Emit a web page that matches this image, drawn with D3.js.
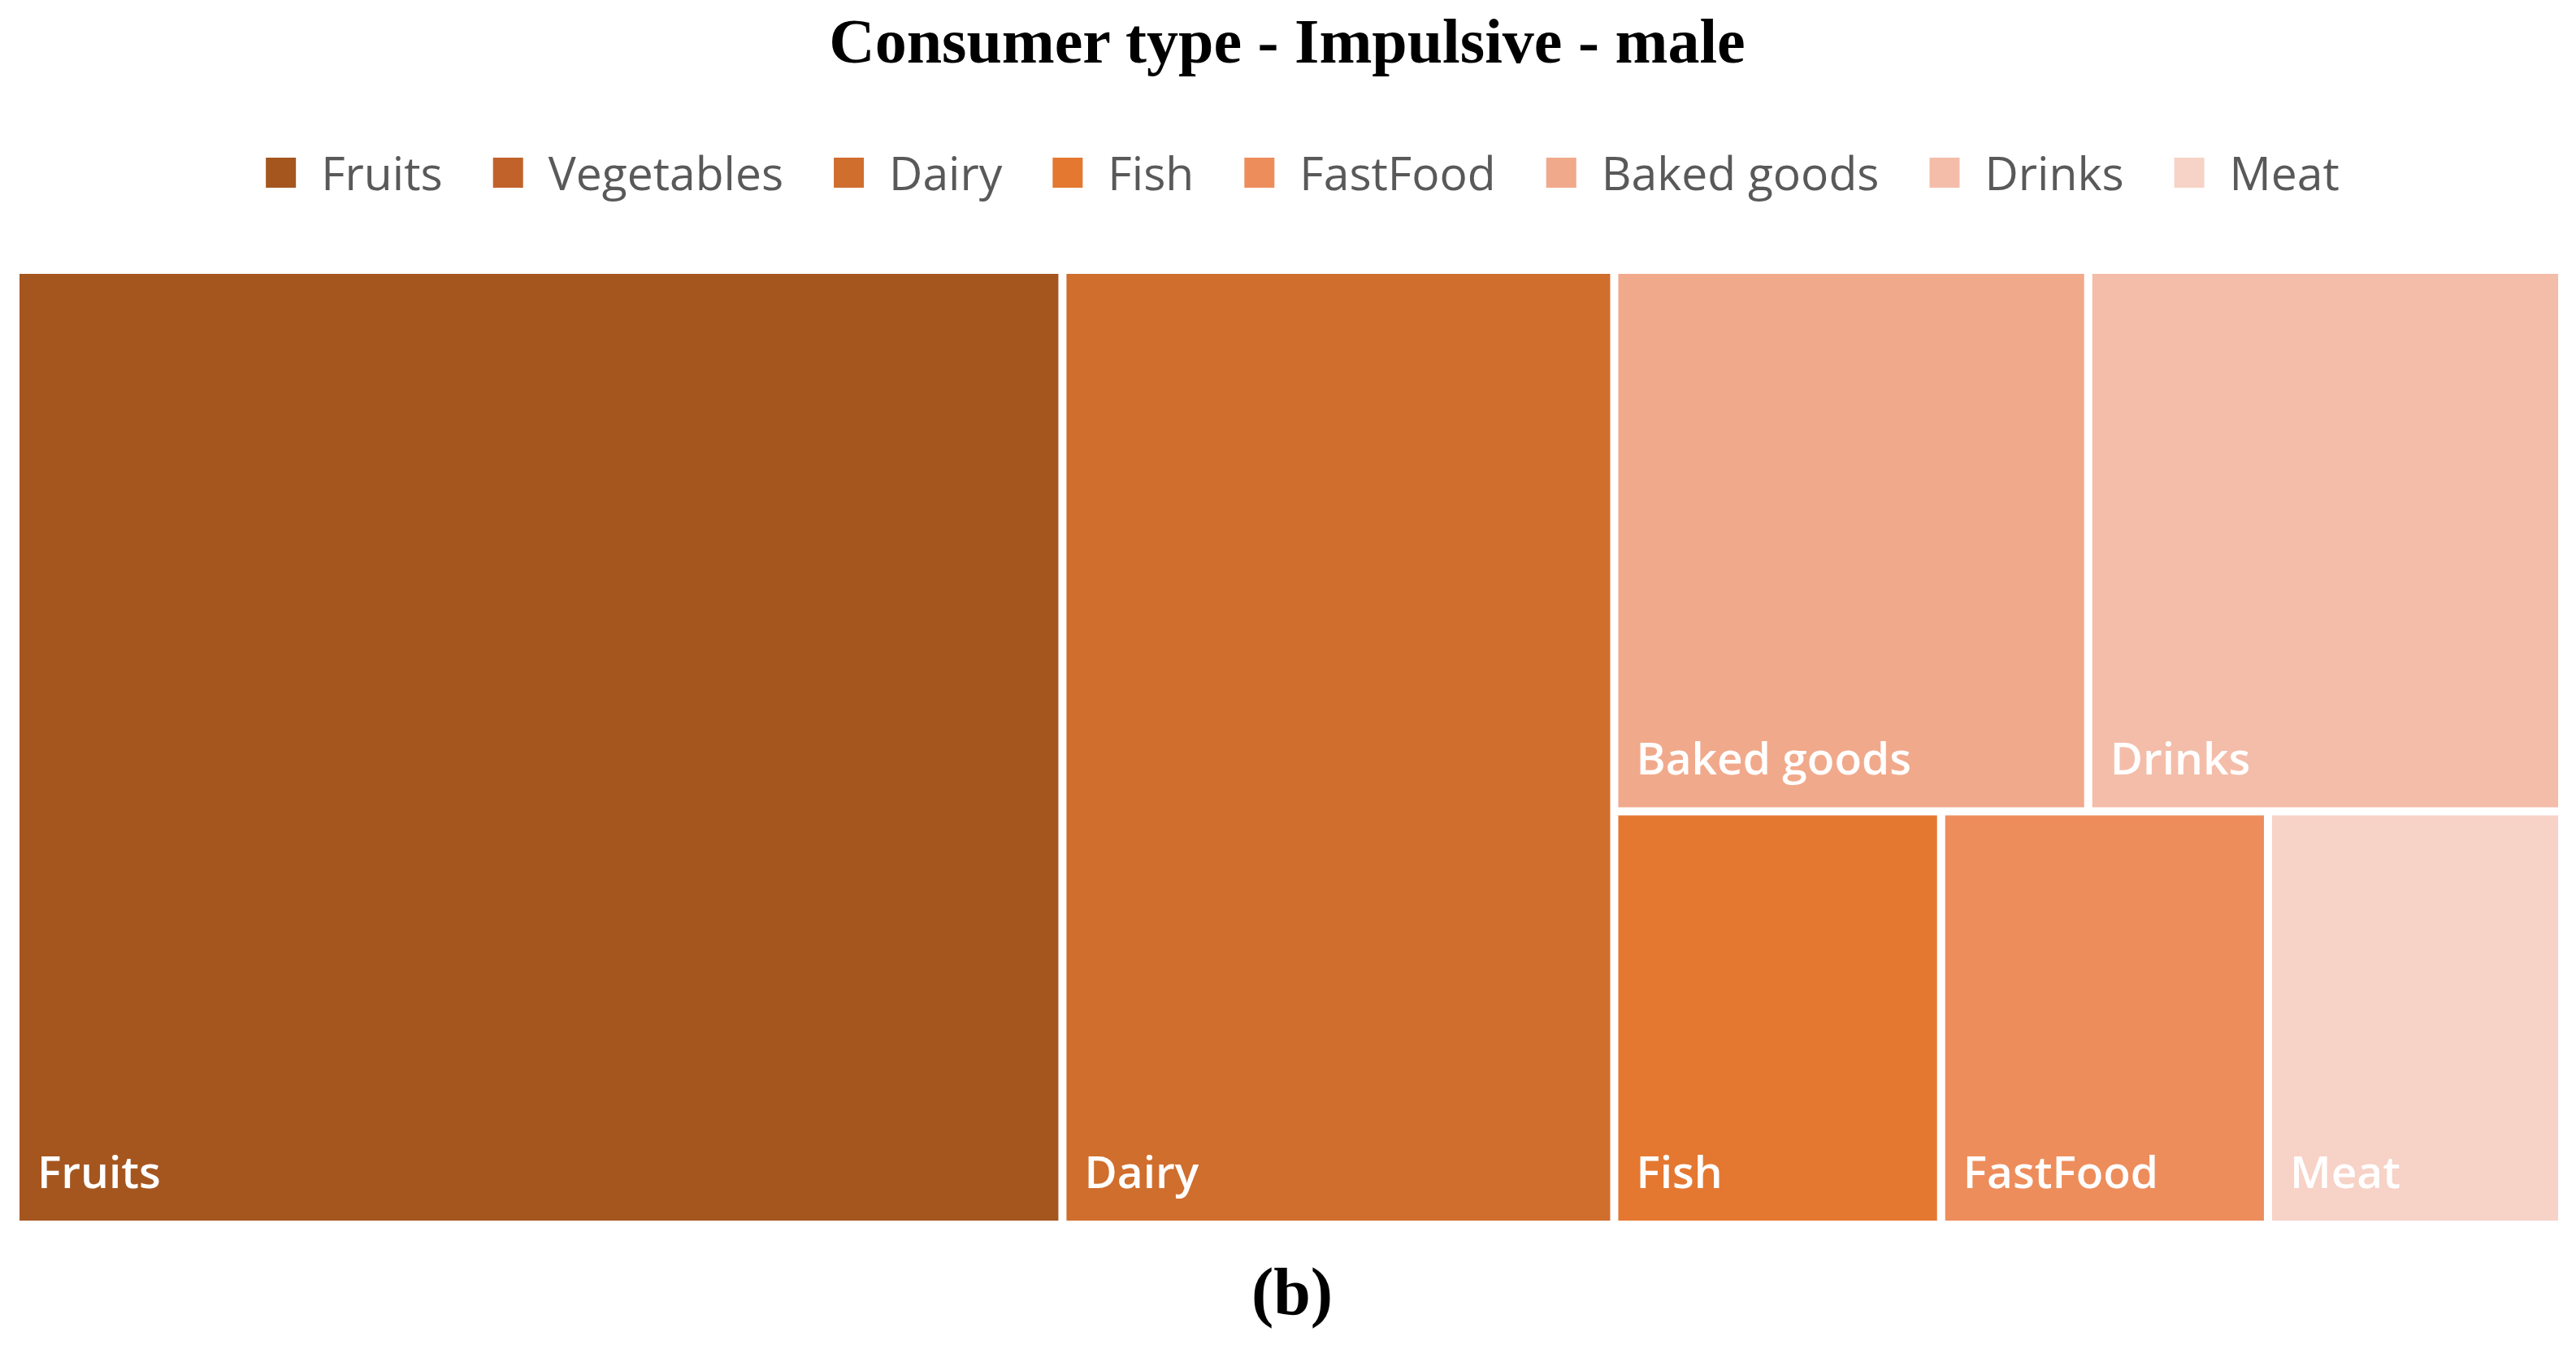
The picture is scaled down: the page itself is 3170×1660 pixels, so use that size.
<!DOCTYPE html>
<meta charset="utf-8">
<head>
  <title>Consumer type - Impulsive - male</title>
  <script src="https://d3js.org/d3.v7.min.js"></script>
  <style>
    body { margin: 0; background: #fff; }
  </style>
</head>
<body>
  <div id="chart"></div>
  <script>
    var categories = ["Fruits", "Vegetables", "Dairy", "Fish", "FastFood", "Baked goods", "Drinks", "Meat"];
    var values = [74, 0, 39, 10, 10, 19, 19, 9];
    var colors = ["#a5561f", "#c1622a", "#d06e2e", "#e47831", "#ed8d5c", "#f1a98b", "#f4bda9", "#f7d2c6"];

    var W = 3170, H = 1660;
    var plot = { left: 24, top: 337, width: 3124, height: 1165 };

    var svg = d3.select("#chart").append("svg")
      .attr("width", W)
      .attr("height", H);

    var color = d3.scaleOrdinal().domain(categories).range(colors);

    // title
    svg.append("text")
      .attr("x", 1584)
      .attr("y", 77)
      .attr("text-anchor", "middle")
      .style("font-family", "'Liberation Serif', serif")
      .style("font-weight", "bold")
      .style("font-size", "78px")
      .style("fill", "#000")
      .text("Consumer type - Impulsive - male");

    // legend
    var legend = svg.append("g");
    var lx = 0;
    categories.forEach(function (c) {
      var item = legend.append("g").attr("transform", "translate(" + lx + ",0)");
      item.append("rect")
        .attr("x", 0).attr("y", -18)
        .attr("width", 37).attr("height", 37)
        .style("fill", color(c));
      var t = item.append("text")
        .attr("x", 68).attr("y", 22)
        .style("font-family", "'Open Sans', sans-serif")
        .style("font-size", "57px")
        .style("fill", "#595959")
        .text(c);
      lx += 68 + t.node().getComputedTextLength() + 62;
    });
    lx -= 62;
    legend.attr("transform", "translate(" + (1603 - lx / 2) + ",212)");

    // treemap
    var root = d3.hierarchy({ children: categories.map(function (c, i) { return { name: c, value: values[i] }; }) })
      .sum(function (d) { return d.value || 0; })
      .sort(function (a, b) { return b.value - a.value; });

    d3.treemap()
      .tile(d3.treemapSquarify.ratio(1))
      .size([plot.width, plot.height])
      .paddingInner(10)(root);

    var cells = svg.append("g")
      .attr("transform", "translate(" + plot.left + "," + plot.top + ")")
      .selectAll("g")
      .data(root.leaves().filter(function (d) { return d.value > 0; }))
      .enter().append("g");

    cells.append("rect")
      .attr("x", function (d) { return d.x0; })
      .attr("y", function (d) { return d.y0; })
      .attr("width", function (d) { return d.x1 - d.x0; })
      .attr("height", function (d) { return d.y1 - d.y0; })
      .style("fill", function (d) { return color(d.data.name); });

    cells.append("text")
      .attr("x", function (d) { return d.x0 + 22; })
      .attr("y", function (d) { return d.y1 - 40; })
      .style("font-family", "'Open Sans', sans-serif")
      .style("font-weight", 600)
      .style("font-size", "55px")
      .style("fill", "#fff")
      .text(function (d) { return d.data.name; });

    // caption
    svg.append("text")
      .attr("x", 1590)
      .attr("y", 1617)
      .attr("text-anchor", "middle")
      .style("font-family", "'Liberation Serif', serif")
      .style("font-weight", "bold")
      .style("font-size", "82px")
      .style("fill", "#000")
      .text("(b)");
  </script>
</body>
</html>
